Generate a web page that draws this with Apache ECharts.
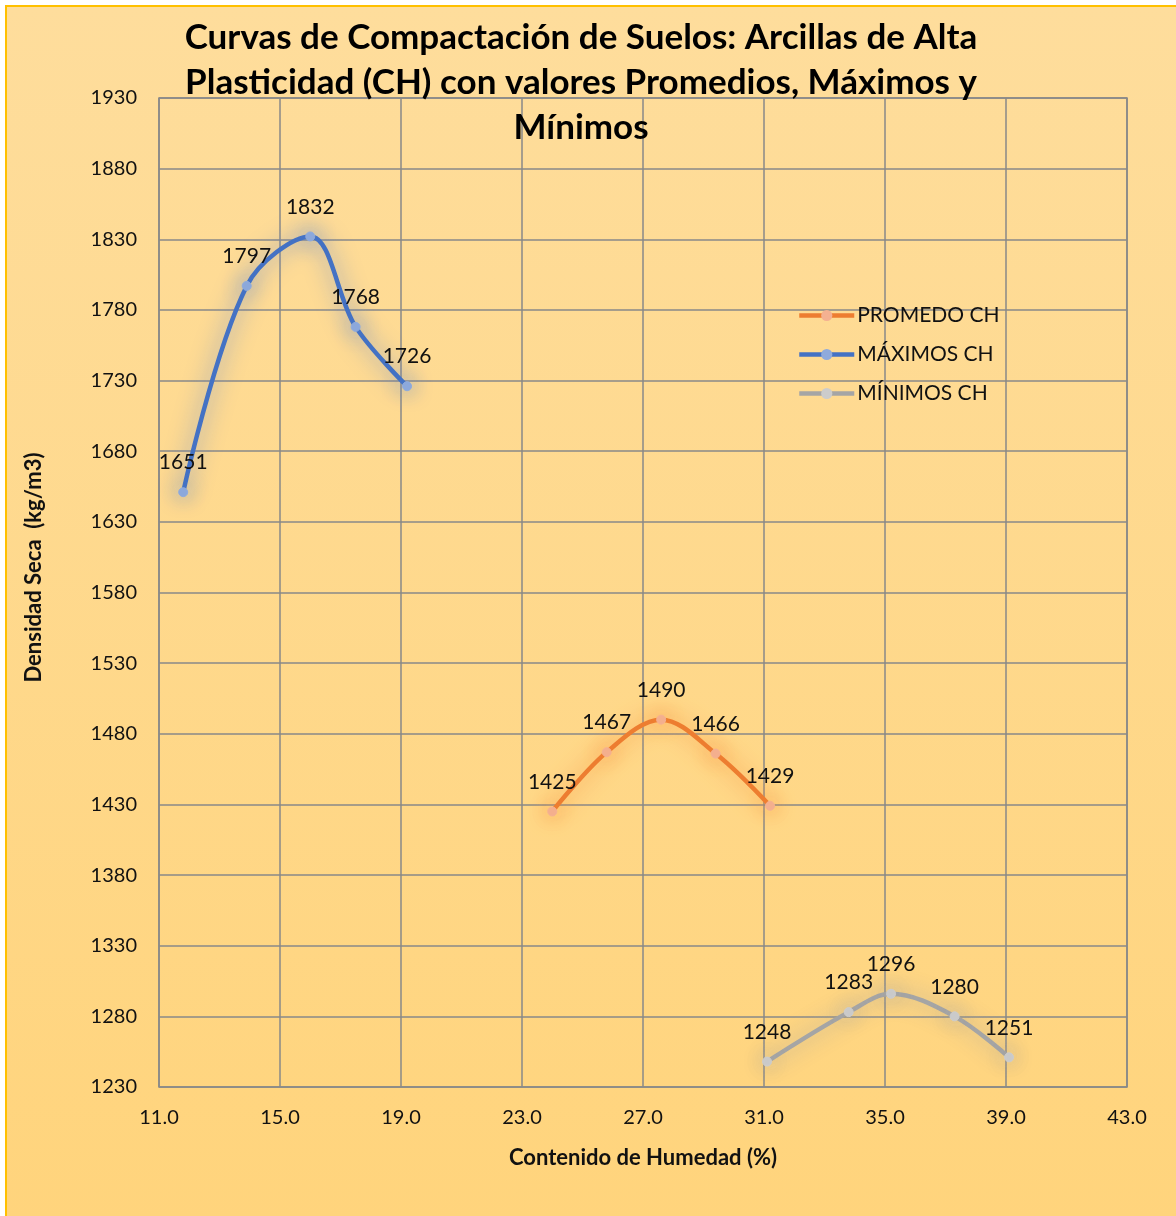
<!DOCTYPE html>
<html>
<head>
<meta charset="utf-8">
<script src="https://cdn.jsdelivr.net/npm/echarts@6/dist/echarts.min.js"></script>
<style>
  html, body { margin: 0; padding: 0; background: #ffffff; }
  #frame {
    position: absolute; left: 5px; top: 5px; width: 1176px; height: 1216px;
    border-left: 2px solid #FFC000; border-top: 2px solid #FFC000;
    background: linear-gradient(to bottom, #FEDD9C 0%, #FFD47C 100%);
  }
  #chart { position: absolute; left: 0; top: 0; width: 1176px; height: 1216px; }
</style>
</head>
<body>
<div id="frame"></div>
<div id="chart"></div>
<script>
// Compaction curves for high-plasticity clays (CH): average, maximum, minimum
const seriesNames = ['PROMEDO CH', 'MÁXIMOS CH', 'MÍNIMOS CH'];

// moisture content (%) and dry density (kg/m3)
const promedioX = [24.0, 25.8, 27.6, 29.4, 31.2];
const promedioY = [1425, 1467, 1490, 1466, 1429];

const maximosX = [11.8, 13.9, 16.0, 17.5, 19.2];
const maximosY = [1651, 1797, 1832, 1768, 1726];

const minimosX = [31.1, 33.8, 35.2, 37.3, 39.1];
const minimosY = [1248, 1283, 1296, 1280, 1251];

const FONT = 'Lato';

function pairs(xs, ys) { return xs.map((x, i) => [x, ys[i]]); }

function curve(name, xs, ys, lineColor, glowColor, markerColor) {
  return {
    name: name,
    type: 'line',
    smooth: 0.35,
    data: pairs(xs, ys),
    symbol: 'circle',
    symbolSize: 9,
    lineStyle: {
      color: lineColor, width: 4.5,
      shadowColor: glowColor, shadowBlur: 22
    },
    itemStyle: {
      color: markerColor, borderColor: markerColor,
      shadowColor: glowColor, shadowBlur: 20
    },
    label: {
      show: true, position: 'top', distance: 14,
      formatter: p => String(p.value[1]),
      color: '#111', fontFamily: FONT, fontSize: 21
    },
    emphasis: { disabled: true }
  };
}

const chart = echarts.init(document.getElementById('chart'));
chart.setOption({
  backgroundColor: 'transparent',
  animation: false,
  title: {
    text: 'Curvas de Compactación de Suelos: Arcillas de Alta\nPlasticidad (CH) con valores Promedios, Máximos y\nMínimos',
    left: 576, top: 10, textAlign: 'center',
    textStyle: {
      fontFamily: FONT, fontWeight: 'bold', fontSize: 35,
      lineHeight: 45, color: '#000'
    }
  },
  legend: {
    orient: 'vertical',
    left: 792, top: 300,
    itemWidth: 55, itemHeight: 14, itemGap: 18,
    data: seriesNames,
    lineStyle: { width: 4.5 },
    textStyle: { fontFamily: FONT, fontSize: 21, color: '#111', padding: [0, 0, 0, -2] }
  },
  grid: {
    left: 159, top: 98, right: 49, bottom: 129,
    show: true, borderColor: '#888', borderWidth: 1.5
  },
  xAxis: {
    type: 'value', min: 11, max: 43, interval: 4,
    name: 'Contenido de Humedad (%)',
    nameLocation: 'middle', nameGap: 60,
    nameTextStyle: { fontFamily: FONT, fontWeight: 'bold', fontSize: 22, color: '#111' },
    axisLine: { show: false },
    axisTick: { show: false },
    splitLine: { show: true, lineStyle: { color: '#888', width: 1.5 } },
    axisLabel: {
      margin: 21, fontFamily: FONT, fontSize: 20, color: '#111',
      formatter: v => v.toFixed(1)
    }
  },
  yAxis: {
    type: 'value', min: 1230, max: 1930, interval: 50,
    name: 'Densidad Seca  (kg/m3)',
    nameLocation: 'middle', nameGap: 114,
    nameTextStyle: { fontFamily: FONT, fontWeight: 'bold', fontSize: 22, color: '#111', padding: [0, 0, 0, 50] },
    axisLine: { show: false },
    axisTick: { show: false },
    splitLine: { show: true, lineStyle: { color: '#888', width: 1.5 } },
    axisLabel: { margin: 22, fontFamily: FONT, fontSize: 20, color: '#111', formatter: v => String(v) }
  },
  series: [
    curve(seriesNames[0], promedioX, promedioY, '#ED7D31', 'rgba(245,140,60,0.95)', '#F4B191'),
    curve(seriesNames[1], maximosX, maximosY, '#4472C4', 'rgba(90,130,210,0.95)', '#8FAADC'),
    curve(seriesNames[2], minimosX, minimosY, '#A5A5A5', 'rgba(160,160,160,0.95)', '#CCCCCC')
  ]
});
</script>
</body>
</html>
